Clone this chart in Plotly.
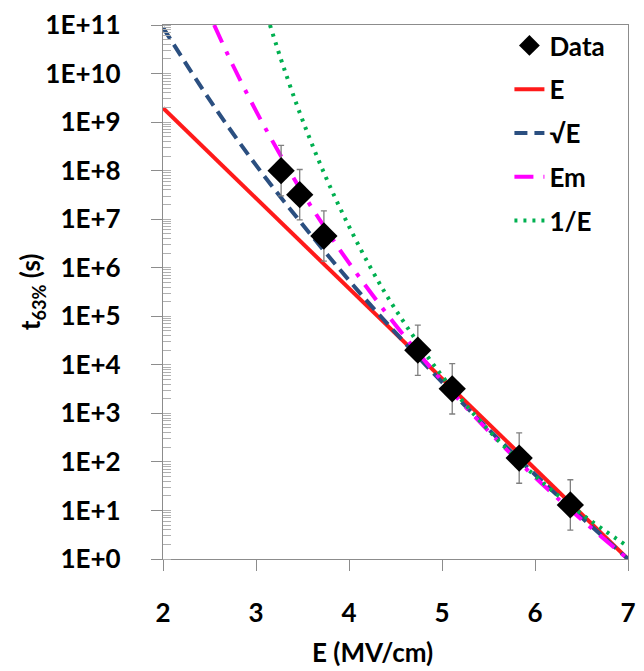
import plotly.graph_objects as go

# Measured breakdown times
field = [3.27, 3.47, 3.73, 4.74, 5.11, 5.83, 6.38]          # MV/cm
t63 = [1.0e8, 3.2e7, 4.5e6, 2.0e4, 3.2e3, 1.2e2, 1.3e1]     # s
err_factor = 3.3                                            # multiplicative scatter

# Model curves (field, time)
e_model_x = [2.0, 7.0]
e_model_t = [1.95e9, 1.0]

sqrt_model_x = [2.0, 2.5, 3.0, 3.5, 4.0, 4.5, 5.0, 5.5, 6.0, 6.5, 7.0]
sqrt_model_t = [8.9e10, 2.9e9, 1.3e8, 7.8e6, 5.5e5, 4.6e4, 4.4e3, 4.7e2, 5.5e1, 7.2e0, 1.0e0]

em_model_x = [2.55, 2.75, 3.0, 3.25, 3.5, 3.75, 4.0, 4.5, 5.0, 5.5, 6.0, 6.5, 7.0]
em_model_t = [1.0e11, 1.5e10, 1.7e9, 2.3e8, 3.5e7, 6.3e6, 1.26e6, 6.6e4, 4.7e3, 4.3e2, 4.8e1, 6.5e0, 1.0e0]

inv_model_x = [3.15, 3.3, 3.5, 3.75, 4.0, 4.25, 4.5, 5.0, 5.5, 6.0, 6.5, 7.0]
inv_model_t = [1.0e11, 1.3e10, 1.1e9, 7.4e7, 7.1e6, 8.7e5, 1.38e5, 5.9e3, 4.5e2, 5.2e1, 8.5e0, 1.8e0]

y_tick_vals = [1e0, 1e1, 1e2, 1e3, 1e4, 1e5, 1e6, 1e7, 1e8, 1e9, 1e10, 1e11]
y_tick_text = ["1E+0", "1E+1", "1E+2", "1E+3", "1E+4", "1E+5",
               "1E+6", "1E+7", "1E+8", "1E+9", "1E+10", "1E+11"]
x_tick_vals = [2, 3, 4, 5, 6, 7]

FONT = "Lato"
LABEL_SIZE = 26
AXIS_GRAY = "#8c8c8c"

fig = go.Figure()

fig.add_trace(go.Scatter(
    x=e_model_x, y=e_model_t, mode="lines", name="E",
    line=dict(color="#ff1a1a", width=4),
    legendgroup="e", legendrank=2,
))
fig.add_trace(go.Scatter(
    x=sqrt_model_x, y=sqrt_model_t, mode="lines", name="√E",
    line=dict(color="#2b4f80", width=4, dash="13px,7px", shape="spline"),
    legendgroup="sqrt", legendrank=3,
))
fig.add_trace(go.Scatter(
    x=em_model_x, y=em_model_t, mode="lines", name="Em",
    line=dict(color="#ff00ff", width=4, dash="19px,10px,4px,10px", shape="spline"),
    legendgroup="em", legendrank=4,
))
fig.add_trace(go.Scatter(
    x=inv_model_x, y=inv_model_t, mode="lines", name="1/E",
    line=dict(color="#00b050", width=4, dash="3px,6px", shape="spline"),
    legendgroup="inv", legendrank=5,
))

err_up = [t * err_factor - t for t in t63]
err_down = [t - t / err_factor for t in t63]
fig.add_trace(go.Scatter(
    x=field, y=t63, mode="markers", name="Data",
    marker=dict(symbol="diamond", size=21, color="black"),
    error_y=dict(type="data", array=err_up, arrayminus=err_down,
                 color="#7f7f7f", thickness=1.3, width=3),
    legendgroup="data", legendrank=1,
))

fig.update_layout(
    width=644, height=671,
    margin=dict(l=163, r=8, t=25, b=112),
    paper_bgcolor="white", plot_bgcolor="white",
    font=dict(family=FONT, size=LABEL_SIZE, color="black"),
    showlegend=True,
    legend=dict(
        x=0.745, y=1.0 + 3 / 534, xanchor="left", yanchor="top",
        bgcolor="rgba(0,0,0,0)",
        font=dict(family=FONT, size=LABEL_SIZE, color="black", weight="bold"),
        itemwidth=30, tracegroupgap=7,
    ),
    annotations=[
        dict(text="E (MV/cm)", xref="paper", yref="paper",
             x=(376 - 163) / 473, y=-(652 - 559) / 534,
             xanchor="center", yanchor="middle", showarrow=False,
             font=dict(family=FONT, size=LABEL_SIZE, color="black", weight="bold")),
        dict(text="t<sub>63%</sub> (s)", xref="paper", yref="paper",
             x=-(163 - 29) / 473, y=0.5, textangle=-90,
             xanchor="center", yanchor="middle", showarrow=False,
             font=dict(family=FONT, size=LABEL_SIZE, color="black", weight="bold")),
    ],
)

fig.update_xaxes(
    range=[2, 7], tickvals=x_tick_vals,
    showgrid=False, zeroline=False,
    showline=True, linecolor=AXIS_GRAY, linewidth=1.3, mirror=True,
    ticks="outside", ticklen=11, tickcolor=AXIS_GRAY, tickwidth=1.3,
    ticklabelstandoff=20,
    tickfont=dict(family=FONT, size=LABEL_SIZE, weight="bold"),
)
fig.update_yaxes(
    type="log", range=[0, 11],
    tickvals=y_tick_vals, ticktext=y_tick_text,
    showgrid=False, zeroline=False,
    showline=True, linecolor=AXIS_GRAY, linewidth=1.3, mirror=True,
    ticks="outside", ticklen=11, tickcolor=AXIS_GRAY, tickwidth=1.3,
    ticklabelstandoff=25,
    minor=dict(ticks="inside", ticklen=8, tickcolor="#b0b0b0", tickwidth=1, dtick="D1", showgrid=False),
    tickfont=dict(family=FONT, size=LABEL_SIZE, weight="bold"),
)

fig.write_html("out.html")
